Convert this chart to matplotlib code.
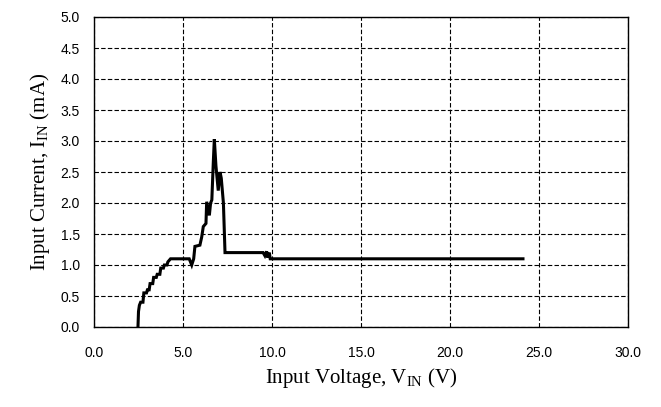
import matplotlib
matplotlib.use("Agg")
import matplotlib.pyplot as plt

v_in = [2.47, 2.50, 2.55, 2.62, 2.75, 2.80, 2.95, 3.00, 3.10, 3.15, 3.30, 3.35, 3.50, 3.55, 3.70, 3.75,
        3.90, 3.95, 4.10, 4.15, 4.30, 4.40, 4.60, 5.35, 5.49, 5.60, 5.67, 5.95, 6.05, 6.14, 6.29,
        6.33, 6.48, 6.55, 6.62, 6.70, 6.76, 6.85, 6.98, 7.08, 7.15, 7.27, 7.36, 7.40, 9.50, 9.60,
        9.70, 9.75, 9.85, 9.90, 10.2, 24.1]
i_in = [0.00, 0.25, 0.35, 0.40, 0.40, 0.55, 0.55, 0.60, 0.60, 0.70, 0.70, 0.80, 0.80, 0.85, 0.85, 0.95,
        0.95, 1.00, 1.00, 1.05, 1.10, 1.10, 1.10, 1.10, 1.00, 1.10, 1.30, 1.32, 1.45, 1.62, 1.67,
        2.02, 1.80, 2.00, 2.05, 2.64, 3.03, 2.60, 2.20, 2.50, 2.40, 2.00, 1.20, 1.20, 1.20, 1.15,
        1.22, 1.12, 1.20, 1.10, 1.10, 1.10]

x_ticks = [0, 5, 10, 15, 20, 25, 30]
y_ticks = [0, 0.5, 1.0, 1.5, 2.0, 2.5, 3.0, 3.5, 4.0, 4.5, 5.0]

plt.rcParams['mathtext.fontset'] = 'custom'
plt.rcParams['mathtext.rm'] = 'Liberation Serif'

fig = plt.figure(figsize=(6.61, 4.07), dpi=100)
ax = fig.add_axes([94/661, 1 - 327/407, (628 - 94)/661, (327 - 17)/407])
ax.plot(v_in, i_in, color='black', lw=2.2, solid_joinstyle='miter')
ax.set_xlim(0, 30)
ax.set_ylim(0, 5)
ax.set_xticks(x_ticks)
ax.set_yticks(y_ticks)
ax.set_xticklabels([f"{t:.1f}" for t in x_ticks], fontname='Liberation Sans', fontsize=10)
ax.set_yticklabels([f"{t:.1f}" for t in y_ticks], fontname='Liberation Sans', fontsize=10)
ax.tick_params(length=0, pad=10)
ax.tick_params(axis='x', pad=14)
ax.grid(True, color='black', ls=(0, (4, 2)), lw=0.8)
for s in ax.spines.values():
    s.set_linewidth(1.0)
ax.set_xlabel(r"Input Voltage, V$_{\mathrm{IN}}$ (V)", fontname='Liberation Serif', fontsize=15, labelpad=4)
ax.set_ylabel(r"Input Current, I$_{\mathrm{IN}}$ (mA)", fontname='Liberation Serif', fontsize=15, labelpad=6)
fig.savefig("out.png", dpi=100)
